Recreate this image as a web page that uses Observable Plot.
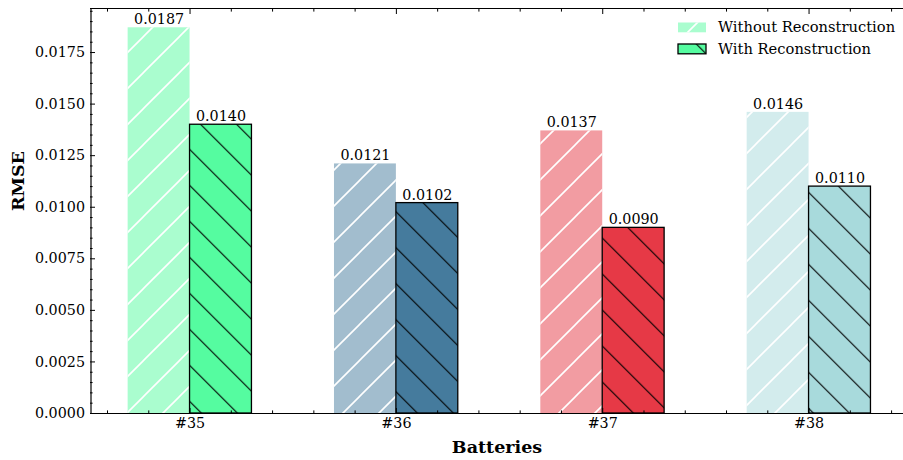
<!DOCTYPE html>
<html><head><meta charset="utf-8">
<script src="https://cdn.jsdelivr.net/npm/d3@7"></script>
<script src="https://cdn.jsdelivr.net/npm/@observablehq/plot@0.6"></script>
<style>html,body{margin:0;padding:0;background:#fff;overflow:hidden}</style>
</head><body><div id="chart"></div>
<script>
const categories = ["#35", "#36", "#37", "#38"];
const seriesNames = ["Without Reconstruction", "With Reconstruction"];
const withoutValues = [0.0187, 0.0121, 0.0137, 0.0146];
const withValues = [0.0140, 0.0102, 0.0090, 0.0110];
const withColors = ["#55fca0", "#457b9d", "#e63946", "#a8dadc"];
const withoutColors = ["#aafdcf", "#a2bdce", "#f29ca2", "#d3eced"];
const yTickValues = [0, 0.0025, 0.005, 0.0075, 0.01, 0.0125, 0.015, 0.0175];
const yTickLabels = ["0.0000", "0.0025", "0.0050", "0.0075", "0.0100", "0.0125", "0.0150", "0.0175"];
const xTickValues = [0, 1, 2, 3];
const xTickLabels = categories;
const xLabel = "Batteries";
const yLabel = "RMSE";

const yMinorTicks = d3.range(1, 40).map(k => k * 0.0005).filter((v, k) => (k + 1) % 5 !== 0);
const xMinorTicks = d3.range(-2, 18).map(k => k * 0.2).filter((v, k) => (k - 2 + 100) % 5 !== 0);

const rows = [];
categories.forEach((c, i) => {
  rows.push({cat: c, i, series: "without", value: withoutValues[i], color: withoutColors[i]});
  rows.push({cat: c, i, series: "with", value: withValues[i], color: withColors[i]});
});
const W = 0.3;
const x1 = d => d.series === "without" ? d.i - W : d.i;
const x2 = d => d.series === "without" ? d.i : d.i + W;
const xc = d => d.series === "without" ? d.i - W / 2 : d.i + W / 2;
const withoutRows = rows.filter(d => d.series === "without");
const withRows = rows.filter(d => d.series === "with");
const yMax = 0.0187 * 1.05;
const font = "DejaVu Serif";

const chart = Plot.plot({
  width: 903, height: 460,
  marginLeft: 90, marginTop: 8, marginBottom: 47, marginRight: 0,
  x: {domain: [-0.48, 3.48], range: [90.5, 907.6], axis: null},
  y: {domain: [0, yMax], range: [413, 8], axis: null},
  color: {type: "identity"},
  style: {fontFamily: font, fontSize: "14.3px", background: "white", color: "black", overflow: "hidden"},
  marks: [
    Plot.rectY(rows, {x1, x2, y1: 0, y2: "value", fill: "color", inset: 0}),
    Plot.rectY(withoutRows, {x1, x2, y1: 0, y2: "value", fill: "url(#hatchW)", inset: 0}),
    Plot.rectY(withRows, {x1, x2, y1: 0, y2: "value", fill: "url(#hatchB)", inset: 0}),
    Plot.rectY(withRows, {x1, x2, y1: 0, y2: "value", fill: "none", stroke: "black", strokeWidth: 1.3, inset: 0}),
    // y axis
    Plot.axisY(yTickValues, {anchor: "left", tickSize: 0, tickPadding: 5.5, tickFormat: d => yTickLabels[yTickValues.indexOf(d)], label: null, fontSize: "14.3px"}),
    Plot.axisY(yTickValues, {anchor: "left", tickSize: -5, tickFormat: () => "", label: null, stroke: "black"}),
    Plot.axisY(yMinorTicks, {anchor: "left", tickSize: -2.6, tickFormat: () => "", label: null, stroke: "black"}),
    // x axis
    Plot.axisX(xTickValues, {anchor: "bottom", tickSize: 0, tickPadding: 4, tickFormat: d => xTickLabels[d], label: null, fontSize: "14.3px"}),
    Plot.axisX(xTickValues, {anchor: "bottom", tickSize: -5, tickFormat: () => "", label: null, stroke: "black"}),
    Plot.axisX(xMinorTicks, {anchor: "bottom", tickSize: -2.6, tickFormat: () => "", label: null, stroke: "black"}),
    Plot.axisX(xTickValues, {anchor: "top", tickSize: -5, tickFormat: () => "", label: null, stroke: "black"}),
    Plot.axisX(xMinorTicks, {anchor: "top", tickSize: -2.6, tickFormat: () => "", label: null, stroke: "black"}),
    // spines
    Plot.ruleY([0, yMax], {stroke: "black", strokeWidth: 1.2}),
    Plot.ruleX([-0.48], {stroke: "black", strokeWidth: 1.2}),
    // value labels
    Plot.text(rows, {x: xc, y: "value", text: d => d.value.toFixed(4), lineAnchor: "bottom", dy: -3.5, fontSize: "14.3px", fill: "black"}),
    // axis titles
    Plot.text([xLabel], {frameAnchor: "bottom", dy: 34, lineAnchor: "middle", fontWeight: "bold", fontSize: "17.5px", fill: "black"}),
    Plot.text([yLabel], {frameAnchor: "left", dx: -72, rotate: -90, lineAnchor: "middle", fontWeight: "bold", fontSize: "17.5px", fill: "black"})
  ]
});
document.getElementById("chart").appendChild(chart);

const svg = d3.select(chart);
const defs = svg.insert("defs", ":first-child");
const P = 36;
defs.append("pattern").attr("id", "hatchW").attr("patternUnits", "userSpaceOnUse")
  .attr("width", P).attr("height", P)
  .append("path")
  .attr("d", `M-2,${P + 2}L${P + 2},-2M-2,2L2,-2M${P - 2},${P + 2}L${P + 2},${P - 2}`)
  .attr("stroke", "white").attr("stroke-width", 1.6).attr("fill", "none");
defs.append("pattern").attr("id", "hatchB").attr("patternUnits", "userSpaceOnUse")
  .attr("width", P).attr("height", P).attr("patternTransform", "translate(0,-4.3)")
  .append("path")
  .attr("d", `M-2,-2L${P + 2},${P + 2}M${P - 2},-2L${P + 2},2M-2,${P - 2}L2,${P + 2}`)
  .attr("stroke", "black").attr("stroke-width", 1.1).attr("fill", "none");

// legend
const lg = svg.append("g").attr("font-family", font).attr("font-size", "14.7px").attr("text-anchor", "start");
const lx = 678, ly = [22.5, 44];
lg.append("rect").attr("x", lx).attr("y", ly[0]).attr("width", 28).attr("height", 9.8).attr("fill", withoutColors[0]);
lg.append("rect").attr("x", lx).attr("y", ly[0]).attr("width", 28).attr("height", 9.8).attr("fill", "url(#hatchW)");
lg.append("rect").attr("x", lx).attr("y", ly[1]).attr("width", 28).attr("height", 9.8).attr("fill", withColors[0]);
lg.append("rect").attr("x", lx).attr("y", ly[1]).attr("width", 28).attr("height", 9.8).attr("fill", "url(#hatchB)").attr("stroke", "black").attr("stroke-width", 1.3);
seriesNames.forEach((s, k) => {
  lg.append("text").attr("x", 718).attr("y", ly[k] + 4.9).attr("dy", "0.32em").attr("fill", "black").attr("text-anchor", "start").text(s);
});
</script>
</body></html>
